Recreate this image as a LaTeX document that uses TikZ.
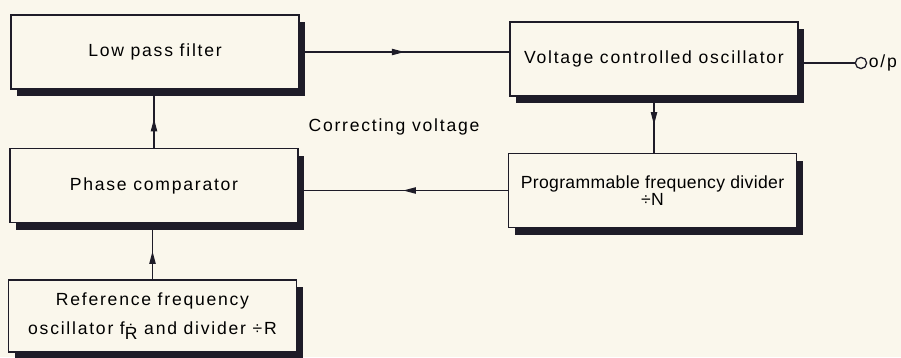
\documentclass[tikz,border=0pt]{standalone}
\usepackage{fontspec}
\setmainfont[LetterSpace=10]{Liberation Sans}
\usetikzlibrary{positioning,shadows,arrows.meta,decorations.markings}
\definecolor{papier}{RGB}{250,247,236}
\definecolor{tinta}{RGB}{30,28,40}
\tikzset{
  blok/.style={draw=tinta, line width=1.2pt, fill=papier, align=center,
    minimum width=7.2cm, minimum height=1.85cm, inner sep=0pt,
    font=\fontsize{12.5}{15}\selectfont,
    general shadow={fill=tinta, shadow xshift=0.16cm, shadow yshift=-0.18cm}},
  garis/.style={draw=tinta, line width=0.9pt},
  panah/.style={garis, postaction={decorate}, decoration={markings,
    mark=at position .5 with {\arrow{Triangle[length=9pt,width=4.5pt]}}}},
}

\begin{document}
\begin{tikzpicture}[x=0.025cm, y=-0.025cm]
  \fill[papier] (0,0) rectangle (901,357);
  \useasboundingbox (0,0) rectangle (901,357);

  \node[blok] (lpf) at (155,52)    {Low pass filter};
  \node[blok] (vco) at (654,59)    {Voltage controlled oscillator};
  \node[blok, font=\fontsize{12.5}{15}\selectfont\addfontfeature{LetterSpace=2}] (pfd) at (652.5,190.5)
    {Programmable frequency divider\\[-3pt]÷N};
  \node[blok] (pc)  at (154,185.5) {Phase comparator};
  \node[blok, minimum height=1.8cm] (ref) at (152.5,316)
    {Reference frequency\\[6pt]oscillator f\raisebox{-.55ex}{\.{R}} and divider ÷R};

  \node[circle, garis, fill=papier, minimum size=8pt, inner sep=0pt] (op) at (861,63) {};
  \node[right=1pt of op, font=\fontsize{12.5}{15}\selectfont, inner sep=0pt] (oplbl) {o/p};
  \node[font=\fontsize{12.5}{15}\selectfont] (cv) at (394,127) {Correcting voltage};

  \draw[panah] (lpf.east) -- (lpf.east -| vco.west);
  \draw[panah] (pfd.west) -- (pfd.west -| pc.east);
  \draw[panah] (pc.north) -- (pc.north |- lpf.south);
  \draw[panah] (ref.north) -- (ref.north |- pc.south);
  \draw[panah] (vco.south) -- (vco.south |- pfd.north);
  \draw[garis] (op.west |- op) -- (vco.east |- op);
\end{tikzpicture}
\end{document}
